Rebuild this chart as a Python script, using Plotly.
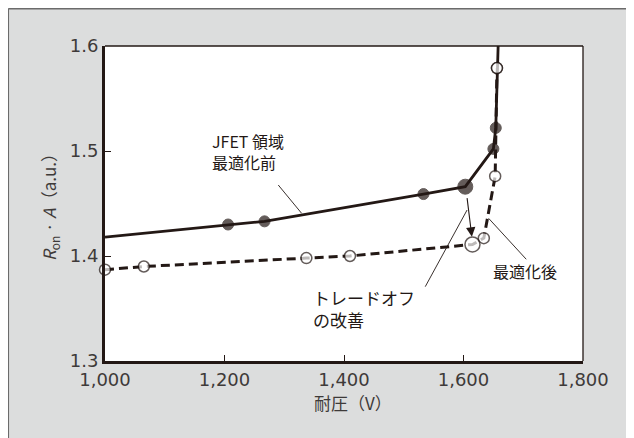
import plotly.graph_objects as go

# Data
before_v = [1000, 1206, 1267, 1533, 1603, 1650, 1654, 1659]
before_r = [1.418, 1.430, 1.433, 1.459, 1.466, 1.502, 1.522, 1.62]
before_size = [0, 11, 11, 11, 15, 11, 11, 0]

after_v = [1000, 1065, 1337, 1410, 1615, 1634, 1653, 1656]
after_r = [1.387, 1.390, 1.398, 1.400, 1.411, 1.417, 1.476, 1.579]
after_size = [11, 11, 11, 11, 15, 11, 11, 11]

x_ticks = [1000, 1200, 1400, 1600, 1800]
x_tick_labels = ["1,000", "1,200", "1,400", "1,600", "1,800"]
y_ticks = [1.3, 1.4, 1.5, 1.6]
y_tick_labels = ["1.3", "1.4", "1.5", "1.6"]

INK = "#231815"
TXT = "#3e3a39"
JP = "Noto Sans CJK JP"

fig = go.Figure()

fig.add_trace(go.Scatter(
    x=after_v, y=after_r, mode="lines+markers",
    line=dict(color=INK, width=3, dash="9px,5px"),
    marker=dict(size=after_size, color="white", line=dict(color=INK, width=1.5)),
    cliponaxis=False, showlegend=False, hoverinfo="skip"))

fig.add_trace(go.Scatter(
    x=before_v, y=before_r, mode="lines",
    line=dict(color=INK, width=2.8),
    showlegend=False, hoverinfo="skip"))

fig.add_trace(go.Scatter(
    x=before_v[1:-1], y=before_r[1:-1], mode="markers",
    marker=dict(size=before_size[1:-1], color=INK, line=dict(color=INK, width=1)),
    cliponaxis=False, showlegend=False, hoverinfo="skip"))

# open marker drawn again on top of the solid line near the top
fig.add_trace(go.Scatter(
    x=after_v[-1:], y=after_r[-1:], mode="markers",
    marker=dict(size=after_size[-1:], color="white", line=dict(color=INK, width=1.5)),
    cliponaxis=False, showlegend=False, hoverinfo="skip"))

BX = -0.2023
BY = 1.1183
shapes = [
    # grey frame border (top / left)
    dict(type="line", xref="paper", yref="paper", x0=BX, x1=1.3, y0=BY, y1=BY,
         line=dict(color="#6b6b6b", width=1.5), layer="above"),
    dict(type="line", xref="paper", yref="paper", x0=BX, x1=BX, y0=-0.4, y1=BY,
         line=dict(color="#6b6b6b", width=1.5), layer="above"),
    # thin top and right frame of the plot area
    dict(type="line", xref="paper", yref="paper", x0=0, x1=1, y0=1, y1=1,
         line=dict(color=INK, width=1.3), layer="above"),
    dict(type="line", xref="paper", yref="paper", x0=1, x1=1, y0=0, y1=1,
         line=dict(color=INK, width=1.3), layer="above"),
    # leader lines
    dict(type="line", x0=1290, y0=1.4676, x1=1329, y1=1.4407, line=dict(color=INK, width=0.9)),
    dict(type="line", x0=1536, y0=1.3708, x1=1606, y1=1.4438, line=dict(color=INK, width=0.9)),
    dict(type="line", x0=1642, y0=1.4359, x1=1705, y1=1.3969, line=dict(color=INK, width=0.9)),
]

annotations = [
    dict(x=1176, y=1.4993, xref="x", yref="y", text="JFET 領域<br>最適化前", showarrow=False,
         xanchor="left", yanchor="middle", align="left", font=dict(family=JP, size=16, color=INK)),
    dict(x=1344, y=1.350, xref="x", yref="y", text="トレードオフ<br>の改善", showarrow=False,
         xanchor="left", yanchor="middle", align="left", font=dict(family=JP, size=17, color=INK)),
    dict(x=1646, y=1.386, xref="x", yref="y", text="最適化後", showarrow=False,
         xanchor="left", yanchor="middle", align="left", font=dict(family=JP, size=16, color=INK)),
    # arrow showing the improvement
    dict(x=1614, y=1.4184, ax=1605.7, ay=1.4565, xref="x", yref="y", axref="x", ayref="y",
         text="", showarrow=True, arrowhead=2, arrowsize=1.7, arrowwidth=1.1, arrowcolor=INK),
    # axis titles
    dict(x=-0.1159, y=0.5, xref="paper", yref="paper", textangle=-90, showarrow=False,
         text="<i>R</i><sub>on</sub> · <i>A</i>（a.u.）", xanchor="center", yanchor="middle",
         font=dict(family=JP, size=17, color=TXT)),
    dict(x=0.518, y=-0.1333, xref="paper", yref="paper", showarrow=False,
         text="耐圧（V）", xanchor="center", yanchor="middle",
         font=dict(family=JP, size=17, color=TXT)),
]

fig.update_layout(
    width=626, height=430,
    margin=dict(l=97.3, r=51.4, t=38, b=77, pad=0),
    paper_bgcolor="#dcdddd", plot_bgcolor="white",
    shapes=shapes, annotations=annotations,
    xaxis=dict(range=[1000, 1800], tickvals=x_ticks, ticktext=x_tick_labels,
               showgrid=False, zeroline=False, showline=True, linewidth=3, linecolor=INK,
               ticks="inside", ticklen=6, tickwidth=1.3, tickcolor=INK,
               tickfont=dict(family="DejaVu Sans", size=18, color=TXT)),
    yaxis=dict(range=[1.3, 1.6], tickvals=y_ticks, ticktext=y_tick_labels,
               showgrid=False, zeroline=False, showline=True, linewidth=3, linecolor=INK,
               ticks="inside", ticklen=6, tickwidth=1.3, tickcolor=INK,
               tickfont=dict(family="DejaVu Sans", size=18, color=TXT)),
)

fig.write_html("out.html")
